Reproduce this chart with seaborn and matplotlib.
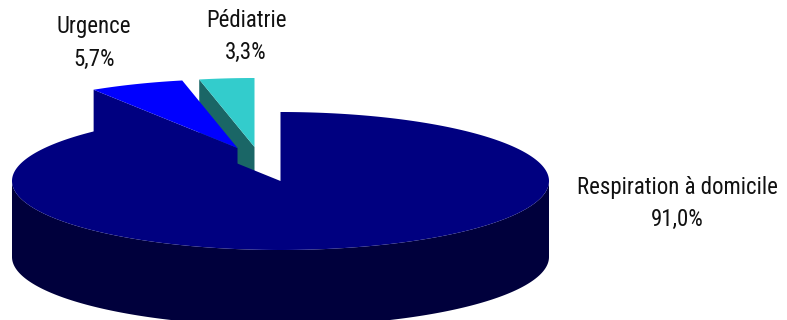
import numpy as np
import matplotlib
matplotlib.use("Agg")
import matplotlib.pyplot as plt
import seaborn as sns

# Sales split by activity
categories = ["Respiration à domicile", "Urgence", "Pédiatrie"]
shares = [91.0, 5.7, 3.3]
top_colors = ["#000080", "#0000FF", "#33CCCC"]
wall_colors = ["#00003C", "#000080", "#1A6666"]

# Ellipse geometry of the tilted disc, in pixels
CX, CY, RX, RY = 280.5, 181.0, 268.5, 69.0
DEPTH = 76.0
# Displacement of each slice out of the disc
offsets = [(0, 0), (-43, -33), (-26, -34)]
label_xy = [(677, 203.5), (94, 43), (246, 36.5)]

sns.set_theme(style="white")
plt.rcParams["font.family"] = ["Roboto Condensed", "Liberation Sans", "DejaVu Sans"]

fig = plt.figure(figsize=(7.87, 3.20), dpi=100)
ax = fig.add_axes([0, 0, 1, 1])
ax.set_xlim(0, 787)
ax.set_ylim(320, 0)
ax.axis("off")


def rim(theta, dx=0.0, dy=0.0):
    """Point on the disc rim; theta runs clockwise in radians from 12 o'clock."""
    return CX + dx + RX * np.sin(theta), CY + dy - RY * np.cos(theta)


# Slice boundaries, clockwise from 12 o'clock
edges = np.radians(np.concatenate([[0], np.cumsum(shares)]) * 3.6)
spans = list(zip(edges[:-1], edges[1:]))

# Pediatrics slice: its left radial wall, then its top
a, b = spans[2]
dx, dy = offsets[2]
x0, y0 = rim(a, dx, dy)
ax.fill([x0, CX + dx, CX + dx, x0], [y0, CY + dy, CY + dy + DEPTH, y0 + DEPTH],
        color=wall_colors[2], lw=0, zorder=1)
t = np.linspace(a, b, 40)
x, y = rim(t, dx, dy)
ax.fill(np.r_[CX + dx, x], np.r_[CY + dy, y], color=top_colors[2], lw=0, zorder=2)

# Emergency slice: its left radial wall, then its top
a, b = spans[1]
dx, dy = offsets[1]
x0, y0 = rim(a, dx, dy)
ax.fill([x0, CX + dx, CX + dx, x0], [y0, CY + dy, CY + dy + DEPTH, y0 + DEPTH],
        color=wall_colors[1], lw=0, zorder=3)
t = np.linspace(a, b, 40)
x, y = rim(t, dx, dy)
ax.fill(np.r_[CX + dx, x], np.r_[CY + dy, y], color=top_colors[1], lw=0, zorder=4)

# Main slice: outer wall along the front half of the disc, then its top
t = np.linspace(np.pi / 2, 3 * np.pi / 2, 200)
x, y = rim(t)
ax.fill(np.r_[x, x[::-1]], np.r_[y, y[::-1] + DEPTH], color=wall_colors[0], lw=0, zorder=5)
a, b = spans[0]
t = np.linspace(a, b, 400)
x, y = rim(t)
ax.fill(np.r_[CX, x], np.r_[CY, y], color=top_colors[0], lw=0, zorder=6)

# Two-line labels with a decimal comma
for name, share, (lx, ly) in zip(categories, shares, label_xy):
    ax.text(lx, ly, f"{name}\n{share:.1f}%".replace(".", ","), ha="center", va="center",
            fontsize=16.5, color="#111111", linespacing=1.5, zorder=7)

fig.savefig("out.png", dpi=100, facecolor="white")
